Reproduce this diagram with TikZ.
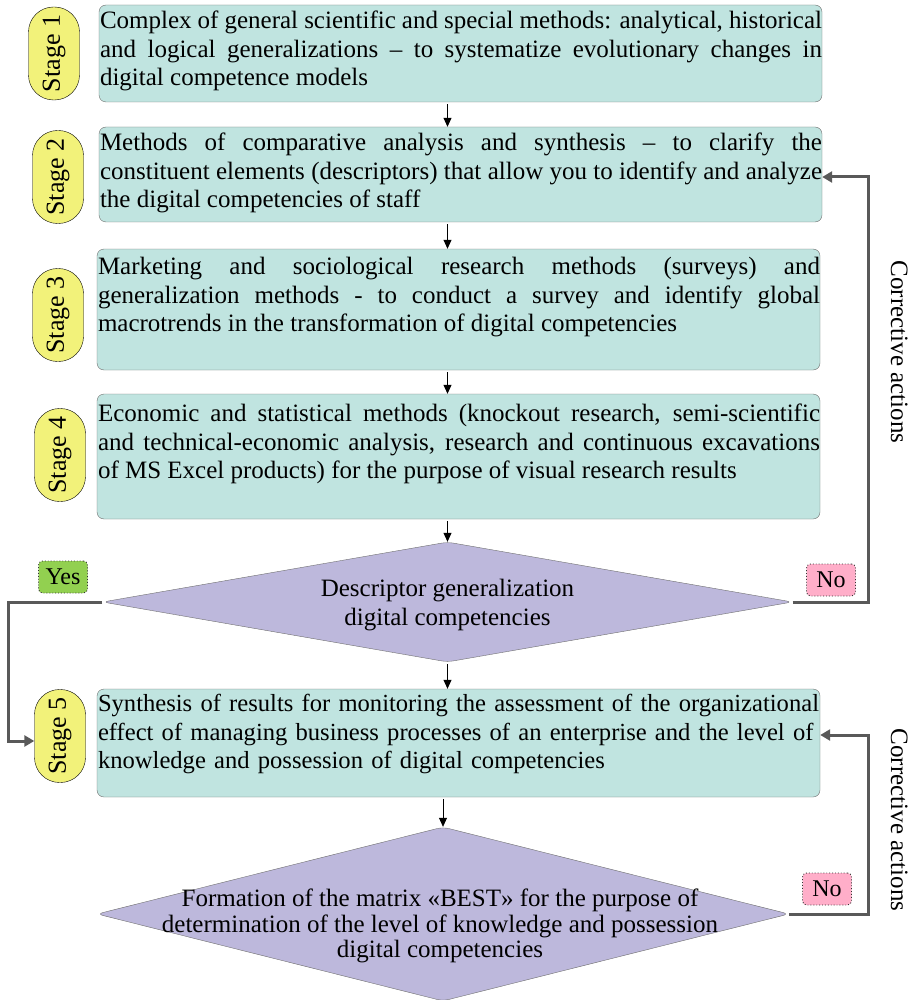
\documentclass[tikz,border=0pt]{standalone}
\usepackage{fontspec}
\setmainfont{Liberation Serif}
\usetikzlibrary{shapes.geometric,arrows.meta}
\definecolor{boxfill}{RGB}{192,228,224}
\definecolor{boxline}{RGB}{110,110,110}
\definecolor{pillfill}{RGB}{242,242,122}
\definecolor{decfill}{RGB}{189,184,220}
\definecolor{yesfill}{RGB}{146,208,80}
\definecolor{nofill}{RGB}{255,174,201}
\definecolor{fbgray}{RGB}{89,89,89}
\begin{document}
\begin{tikzpicture}[x=1pt,y=-1pt,
  stagebox/.style={draw=boxline, fill=boxfill, rounded corners=7pt, minimum width=723pt, inner sep=0pt},
  txt/.style={anchor=north west, inner sep=0pt, text width=722pt, align=justify,
    font=\fontsize{25}{28.5}\selectfont},
  pill/.style={draw=black, fill=pillfill, rounded corners=25pt, rotate=90,
    minimum width=93pt, minimum height=51pt, inner sep=0pt, font=\fontsize{26}{28}\selectfont},
  decision/.style={diamond, draw=boxline, fill=decfill, rounded corners=6pt, inner sep=0pt},
  dectxt/.style={anchor=north, inner sep=0pt, align=center},
  tag/.style={draw=black!80, dotted, line width=0.9pt, rounded corners=4pt, minimum width=49pt,
    minimum height=32pt, inner sep=0pt, font=\fontsize{24}{26}\selectfont},
  corr/.style={rotate=-90, anchor=base, inner sep=0pt, font=\fontsize{25}{28}\selectfont},
  flow/.style={draw=black, line width=0.8pt, shorten <=2pt, -{Triangle[length=9pt,width=8pt]}},
  fb/.style={draw=fbgray, line width=3pt, -{Triangle[length=10pt,width=11pt]}}
]
\useasboundingbox (0,0) rectangle (910,1000);

% method boxes
\node[stagebox, minimum height=97pt]  (b1) at (460.5,53.5) {};
\node[stagebox, minimum height=95pt]  (b2) at (460.5,174.5) {};
\node[stagebox, minimum height=121pt] (b3) at (458.5,309.5) {};
\node[stagebox, minimum height=125pt] (b4) at (458.5,456.5) {};
\node[stagebox, minimum height=108pt] (b5) at (458.5,743) {};

% box texts
\node[txt] (t1) at ([shift={(1,4)}]b1.north west) {\strut Complex of general scientific and special methods: analytical, historical\linebreak
and logical generalizations -- to systematize evolutionary changes in\linebreak
digital competence models};
\node[txt] (t2) at ([shift={(1,4)}]b2.north west) {\strut Methods of comparative analysis and synthesis -- to clarify the\linebreak
constituent elements (descriptors) that allow you to identify and analyze\linebreak
the digital competencies of staff};
\node[txt] (t3) at ([shift={(1,6)}]b3.north west) {\strut Marketing and sociological research methods (surveys) and\linebreak
generalization methods - to conduct a survey and identify global\linebreak
macrotrends in the transformation of digital competencies};
\node[txt] (t4) at ([shift={(1,8)}]b4.north west) {\strut Economic and statistical methods (knockout research, semi-scientific\linebreak
and technical-economic analysis, research and continuous excavations\linebreak
of MS Excel products) for the purpose of visual research results};
\node[txt, align=left, text width=760pt, font=\fontsize{24.6}{28.5}\selectfont] (t5)
  at ([shift={(1,3)}]b5.north west) {\strut Synthesis of results for monitoring the assessment of the organizational\\
effect of managing business processes of an enterprise and the level of\\
knowledge and possession of digital competencies};

% stage labels
\node[pill] (s1) at (54,53.5) {Stage 1};
\node[pill] (s2) at (58,177) {Stage 2};
\node[pill] (s3) at (58,315) {Stage 3};
\node[pill] (s4) at (60,455) {Stage 4};
\node[pill] (s5) at (60,736) {Stage 5};

% decisions
\node[decision, minimum width=690pt, minimum height=120pt] (d1) at (447.5,602) {};
\node[dectxt, font=\fontsize{25}{29}\selectfont] (dt1) at (447.5,576)
  {\strut Descriptor generalization\\ digital competencies};
\node[decision, minimum width=692pt, minimum height=174pt] (d2) at (443,914) {};
\node[dectxt, font=\fontsize{25}{24.5}\selectfont] (dt2) at (440,889)
  {\strut Formation of the matrix «BEST» for the purpose of\\
   determination of the level of knowledge and possession\\
   digital competencies};

% main flow
\draw[flow] (b1.south -| d1.north) -- (b2.north -| d1.north);
\draw[flow] (b2.south -| d1.north) -- (b3.north -| d1.north);
\draw[flow] (b3.south -| d1.north) -- (b4.north -| d1.north);
\draw[flow] (b4.south -| d1.north) -- (d1.north);
\draw[flow] (d1.south) -- (b5.north -| d1.south);
\draw[flow] (b5.south -| d2.north) -- (d2.north);

% branch labels
\node[tag, fill=yesfill] (yes) at (63,577) {Yes};
\node[tag, fill=nofill] (no1) at (831,580) {No};
\node[tag, fill=nofill] (no2) at (827,889) {No};

% yes branch to stage 5 (the pill is turned, so its north side faces left)
\coordinate (yc) at (8,741);
\draw[fb] (d1.west) -| (yc) -- (yc -| s5.north);

% corrective loops
\coordinate (c1) at (868,177);
\draw[fb] (d1.east) -| (c1) -- (c1 -| b2.east);
\coordinate (c2) at (868,735);
\draw[fb] (d2.east) -| (c2) -- (c2 -| b5.east);

\node[corr] (ca1) at (891,352) {Corrective actions};
\node[corr] (ca2) at (891,820) {Corrective actions};
\end{tikzpicture}
\end{document}
